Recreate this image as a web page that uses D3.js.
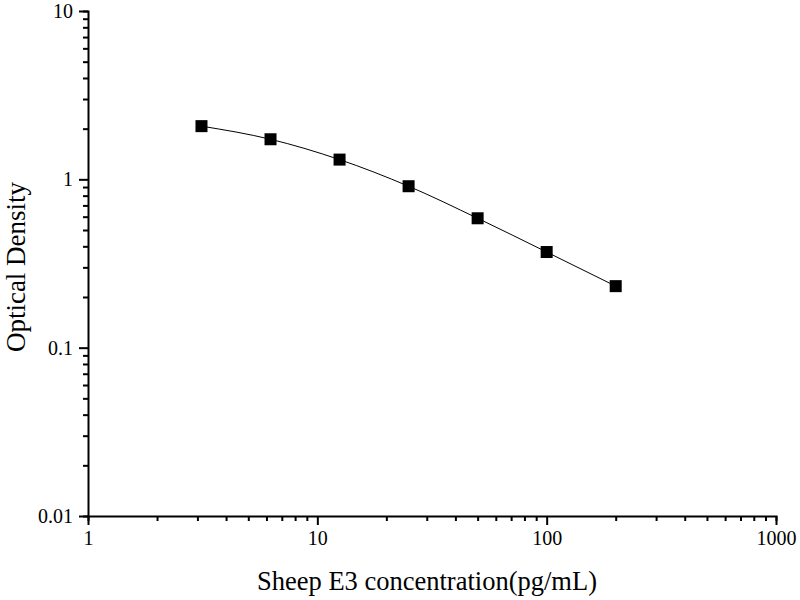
<!DOCTYPE html>
<html>
<head>
<meta charset="utf-8">
<script src="https://cdn.jsdelivr.net/npm/d3@7"></script>
<style>
  body { margin: 0; background: #fff; }
  text { font-family: "Liberation Serif", "Times New Roman", serif; fill: #000; }
</style>
</head>
<body>
<svg id="chart" width="800" height="600"></svg>
<script>
// standard curve readings
const concentration = [3.125, 6.25, 12.5, 25, 50, 100, 200];
const density = [2.07, 1.73, 1.31, 0.91, 0.587, 0.37, 0.232];
const xTickLabels = ["1", "10", "100", "1000"];
const yTickLabels = ["0.01", "0.1", "1", "10"];

const margin = { top: 11, right: 24, bottom: 84, left: 88 };
const width = 800, height = 600;

const svg = d3.select("#chart");

const x = d3.scaleLog().domain([1, 1000]).range([margin.left, width - margin.right]);
const y = d3.scaleLog().domain([0.01, 10]).range([height - margin.bottom, margin.top]);

// minor ticks: 2..9 in each decade
const minor = (lo, hi) => {
  const out = [];
  for (let d = lo; d < hi; d *= 10)
    for (let k = 2; k <= 9; k++) out.push(d * k);
  return out;
};

const xAxis = svg.append("g").attr("transform", `translate(0,${y.range()[0]})`);
xAxis.call(d3.axisBottom(x).tickValues(minor(1, 1000)).tickSize(5).tickFormat(""));
xAxis.append("g").call(
  d3.axisBottom(x).tickValues(xTickLabels.map(Number)).tickSize(9).tickPadding(6)
    .tickFormat((d, i) => xTickLabels[i])
);

const yAxis = svg.append("g").attr("transform", `translate(${x.range()[0]},0)`);
yAxis.call(d3.axisLeft(y).tickValues(minor(0.01, 10)).tickSize(5).tickFormat(""));
yAxis.append("g").call(
  d3.axisLeft(y).tickValues(yTickLabels.map(Number)).tickSize(9).tickPadding(6)
    .tickFormat((d, i) => yTickLabels[i])
);

svg.selectAll(".domain").attr("stroke", "#000").attr("stroke-width", 2);
svg.selectAll(".tick line").attr("stroke", "#000").attr("stroke-width", 2);
svg.selectAll(".tick text").attr("font-size", 20).attr("font-family", "Liberation Serif");
// only one of the overlapping domain paths should be visible
svg.selectAll("g g .domain").remove();

// fitted curve
const line = d3.line()
  .x((d, i) => x(concentration[i]))
  .y(d => y(d))
  .curve(d3.curveMonotoneX);

svg.append("path")
  .datum(density)
  .attr("fill", "none")
  .attr("stroke", "#000")
  .attr("stroke-width", 1)
  .attr("d", line);

svg.append("g")
  .selectAll("rect")
  .data(density)
  .join("rect")
  .attr("x", (d, i) => x(concentration[i]) - 6)
  .attr("y", d => y(d) - 6)
  .attr("width", 12)
  .attr("height", 12)
  .attr("fill", "#000");

svg.append("text")
  .attr("x", 427)
  .attr("y", 590)
  .attr("text-anchor", "middle")
  .attr("font-size", 26.5)
  .text("Sheep E3 concentration(pg/mL)");

svg.append("text")
  .attr("transform", `translate(25,267) rotate(-90)`)
  .attr("text-anchor", "middle")
  .attr("font-size", 27)
  .text("Optical Density");
</script>
</body>
</html>
